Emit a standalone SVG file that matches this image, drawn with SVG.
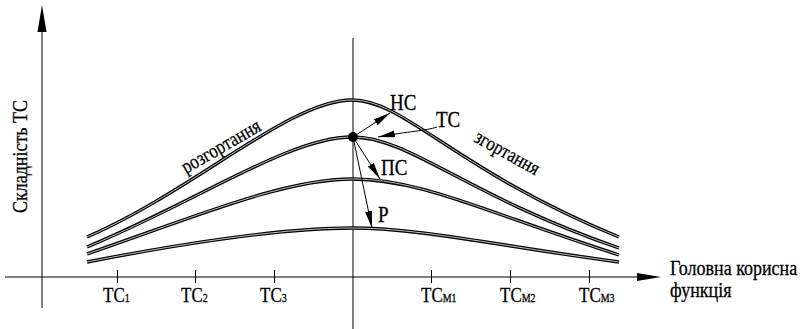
<svg xmlns="http://www.w3.org/2000/svg" width="806" height="329" viewBox="0 0 806 329">
<style>
.ax{stroke:#000;stroke-width:1;fill:none}
.thin{stroke:#000;stroke-width:1;fill:none}
.cb{stroke:#000;stroke-width:3.4;fill:none;stroke-linecap:butt}
.cw{stroke:#fff;stroke-width:0.9;fill:none;stroke-opacity:0.85}
text{font-family:"Liberation Serif","Times New Roman",serif;fill:#000;stroke:#000;stroke-width:0.25}
</style>
<defs>
<marker id="ah" markerUnits="userSpaceOnUse" markerWidth="18" markerHeight="8" refX="17" refY="3.5" orient="auto">
<path d="M0,0 L17,3.5 L0,7 z" fill="#000"/>
</marker>
<path id="c1" d="M87,237 C195,190 290,100 352,100 C405,100 455,170 619,237"/>
<path id="c2" d="M87,247 C200,200 290,137 352,137 C410,137 465,195 619,248"/>
<path id="c3" d="M87,254 C200,215 285,179 352,179 C420,179 480,210 619,255"/>
<path id="c4" d="M87,262 C200,240 290,228 352,228 C420,228 500,246 619,262"/>
</defs>
<g id="axes">
<line class="ax" x1="42" y1="30" x2="42" y2="308"/>
<path d="M42,5 L46.5,32 L37.5,32 z" fill="#000"/>
<line class="ax" x1="5" y1="277" x2="640" y2="277"/>
<path d="M661,277 L637,281 L637,273 z" fill="#000"/>
<line class="ax" x1="353" y1="38" x2="353" y2="329"/>
<g id="ticks">
<line class="ax" x1="117.5" y1="270" x2="117.5" y2="283"/>
<line class="ax" x1="195.5" y1="270" x2="195.5" y2="283"/>
<line class="ax" x1="274.5" y1="270" x2="274.5" y2="283"/>
<line class="ax" x1="431.5" y1="270" x2="431.5" y2="283"/>
<line class="ax" x1="510.5" y1="270" x2="510.5" y2="283"/>
<line class="ax" x1="589.5" y1="270" x2="589.5" y2="283"/>
</g>
</g>
<g id="curves">
<use href="#c1" class="cb"/><use href="#c1" class="cw"/>
<use href="#c2" class="cb"/><use href="#c2" class="cw"/>
<use href="#c3" class="cb"/><use href="#c3" class="cw"/>
<use href="#c4" class="cb"/><use href="#c4" class="cw"/>
</g>
<g id="connectors">
<line class="thin" x1="353" y1="137" x2="390" y2="113" marker-end="url(#ah)"/>
<line class="thin" x1="353" y1="137" x2="380" y2="179" marker-end="url(#ah)"/>
<line class="thin" x1="353" y1="137" x2="372" y2="228" marker-end="url(#ah)"/>
<path class="thin" d="M437,127 C425,131 410,131 378,137" marker-end="url(#ah)"/>
</g>
<g id="node-dot"><circle cx="353" cy="137" r="5" fill="#000"/></g>
<g id="labels">
<text font-size="19" transform="translate(390,110) scale(1,1.2)">НС</text>
<text font-size="19" transform="translate(436,127) scale(1,1.2)">ТС</text>
<text font-size="19" transform="translate(381,175) scale(1,1.2)">ПС</text>
<text font-size="19" transform="translate(378,222) scale(1,1.2)">Р</text>
<text font-size="17" transform="translate(186,174) rotate(-30) scale(1,1.2)">розгортання</text>
<text font-size="17" transform="translate(473,141) rotate(29) scale(1,1.2)">згортання</text>
<text font-size="18" transform="translate(27,213) rotate(-90) scale(1,1.2)">Складність ТС</text>
<text font-size="18" transform="translate(670,275) scale(1,1.2)">Головна корисна</text>
<text font-size="18" transform="translate(670,297) scale(1,1.2)">функція</text>
</g>
<g id="tick-labels" font-size="17">
<text transform="translate(103,302) scale(1,1.2)">ТС<tspan font-size="10">1</tspan></text>
<text transform="translate(181,302) scale(1,1.2)">ТС<tspan font-size="10">2</tspan></text>
<text transform="translate(260,302) scale(1,1.2)">ТС<tspan font-size="10">3</tspan></text>
<text transform="translate(421,302) scale(1,1.2)">ТС<tspan font-size="10">М1</tspan></text>
<text transform="translate(500,302) scale(1,1.2)">ТС<tspan font-size="10">М2</tspan></text>
<text transform="translate(579,302) scale(1,1.2)">ТС<tspan font-size="10">М3</tspan></text>
</g>
</svg>
